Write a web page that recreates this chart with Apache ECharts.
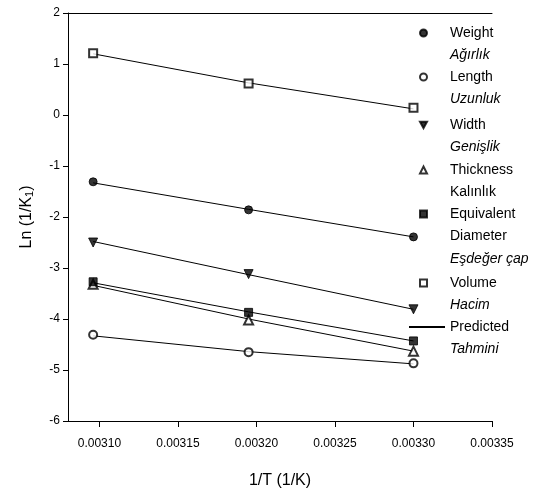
<!DOCTYPE html>
<html>
<head>
<meta charset="utf-8">
<script src="https://cdn.jsdelivr.net/npm/echarts@6/dist/echarts.min.js"></script>
<style>
  html, body { margin: 0; padding: 0; background: #fff; }
  #chart { width: 535px; height: 495px; }
</style>
</head>
<body>
<div id="chart"></div>
<script>
// 1/T values (1/K)
var xVals = [0.003096, 0.003195, 0.003300];

// measured Ln(1/K1)
var weight     = [-1.31, -1.86, -2.39];
var length     = [-4.31, -4.65, -4.87];
var width      = [-2.50, -3.12, -3.81];
var thickness  = [-3.32, -4.02, -4.63];
var equivalent = [-3.27, -3.87, -4.43];
var volume     = [1.21, 0.62, 0.14];

// predicted lines
var weightPred     = [-1.33, -1.85, -2.39];
var lengthPred     = [-4.33, -4.64, -4.88];
var widthPred      = [-2.48, -3.13, -3.81];
var thicknessPred  = [-3.34, -4.00, -4.63];
var equivalentPred = [-3.29, -3.86, -4.43];
var volumePred     = [1.20, 0.63, 0.12];

// x axis ticks
var xTicks = [0.00310, 0.00315, 0.00320, 0.00325, 0.00330, 0.00335];

// legend text: first line english, then turkish
var legendText = {
    'Weight': [['n', 'Weight'], ['i', 'Ağırlık']],
    'Length': [['n', 'Length'], ['i', 'Uzunluk']],
    'Width': [['n', 'Width'], ['i', 'Genişlik']],
    'Thickness': [['n', 'Thickness'], ['n', 'Kalınlık']],
    'Equivalent Diameter': [['n', 'Equivalent'], ['n', 'Diameter'], ['i', 'Eşdeğer çap']],
    'Volume': [['n', 'Volume'], ['i', 'Hacim']],
    'Predicted': [['n', 'Predicted'], ['i', 'Tahmini']]
};
var legendIconY = {
    'Weight': 33, 'Length': 77, 'Width': 125, 'Thickness': 170,
    'Equivalent Diameter': 214, 'Volume': 283, 'Predicted': 327
};

var font = 'Liberation Sans, Arial, sans-serif';
var lineH = 22.5;

function pairs(ys) {
    var out = [];
    for (var i = 0; i < ys.length; i++) out.push([xVals[i], ys[i]]);
    return out;
}

var groups = [
    {name: 'Weight', data: weight, pred: weightPred, symbol: 'circle', size: 8},
    {name: 'Length', data: length, pred: lengthPred, symbol: 'emptyCircle', size: 8},
    {name: 'Width', data: width, pred: widthPred, symbol: 'path://M0,0L10,0L5,9Z', size: 9},
    {name: 'Thickness', data: thickness, pred: thicknessPred, symbol: 'emptyTriangle', size: 9},
    {name: 'Equivalent Diameter', data: equivalent, pred: equivalentPred, symbol: 'rect', size: 8},
    {name: 'Volume', data: volume, pred: volumePred, symbol: 'emptyRect', size: 8}
];

var series = [];
// predicted lines first, so markers sit on top
groups.forEach(function (g) {
    series.push({
        name: 'Predicted',
        type: 'line',
        data: pairs(g.pred),
        symbol: 'none',
        lineStyle: {color: '#000', width: 1},
        itemStyle: {color: '#000'},
        z: 2,
        animation: false
    });
});
groups.forEach(function (g) {
    series.push({
        name: g.name,
        type: 'scatter',
        data: pairs(g.data),
        symbol: g.symbol,
        symbolSize: g.size,
        itemStyle: {color: '#000', borderColor: '#000', borderWidth: 1},
        z: 3,
        animation: false
    });
});

// one legend per entry so each one can sit at its own row
var legends = [];
Object.keys(legendText).forEach(function (name) {
    var lines = legendText[name];
    var n = lines.length;
    var boxH = (2 * n - 1) * lineH;
    var isLine = name === 'Predicted';
    var item = {name: name};
    if (isLine) item.itemStyle = {opacity: 0};
    legends.push({
        data: [item],
        orient: 'vertical',
        left: isLine ? 408 : 419,
        top: legendIconY[name] - boxH / 2,
        padding: 0,
        itemWidth: isLine ? 36 : 7,
        itemHeight: 7,
        selectedMode: false,
        formatter: function (nm) {
            return legendText[nm].map(function (l) {
                return '{' + l[0] + '|' + l[1] + '}';
            }).join('\n');
        },
        textStyle: {
            fontFamily: font,
            fontSize: 14,
            color: '#000',
            lineHeight: lineH,
            padding: [(n - 1) * lineH, 0, 0, isLine ? 0 : 18],
            backgroundColor: 'rgba(255,255,255,0)',
            rich: {
                n: {fontFamily: font, fontSize: 14, lineHeight: lineH, color: '#000'},
                i: {fontFamily: font, fontSize: 14, lineHeight: lineH, color: '#000', fontStyle: 'italic'}
            }
        }
    });
});

var chart = echarts.init(document.getElementById('chart'), null, {renderer: 'canvas'});

var option = {
    backgroundColor: '#fff',
    animation: false,
    grid: {left: 68, right: 43, top: 13, bottom: 74, containLabel: false, outerBoundsMode: 'none'},
    legend: legends,
    xAxis: [{
        type: 'value',
        min: 0.00308,
        max: 0.00335,
        name: '1/T (1/K)',
        nameLocation: 'middle',
        nameGap: 52,
        nameTextStyle: {fontFamily: font, fontSize: 16, color: '#000'},
        axisLine: {show: true, onZero: false, lineStyle: {color: '#000', width: 1}},
        axisTick: {show: true, length: 6, inside: false, customValues: xTicks, lineStyle: {color: '#000'}},
        axisLabel: {
            customValues: xTicks,
            margin: 17,
            fontFamily: font,
            fontSize: 12,
            color: '#000',
            formatter: function (v) { return v.toFixed(5); }
        },
        splitLine: {show: false}
    }, {
        // top frame line
        type: 'value',
        position: 'top',
        min: 0.00308,
        max: 0.00335,
        axisLine: {show: true, onZero: false, lineStyle: {color: '#000', width: 1}},
        axisTick: {show: false},
        axisLabel: {show: false},
        splitLine: {show: false}
    }],
    yAxis: {
        type: 'value',
        min: -6,
        max: 2,
        interval: 1,
        name: '{a|Ln (1/K}{s|1}{a|)}',
        nameLocation: 'middle',
        nameGap: 33,
        nameTextStyle: {
            fontFamily: font,
            fontSize: 16,
            color: '#000',
            rich: {
                a: {fontFamily: font, fontSize: 16, color: '#000'},
                s: {fontFamily: font, fontSize: 11, color: '#000', padding: [6, 0, 0, 0]}
            }
        },
        axisLine: {show: true, onZero: false, lineStyle: {color: '#000', width: 1}},
        axisTick: {show: true, length: 5, inside: false, lineStyle: {color: '#000'}},
        axisLabel: {margin: 8, fontFamily: font, fontSize: 12, color: '#000'},
        splitLine: {show: false}
    },
    series: series
};

chart.setOption(option);
</script>
</body>
</html>
